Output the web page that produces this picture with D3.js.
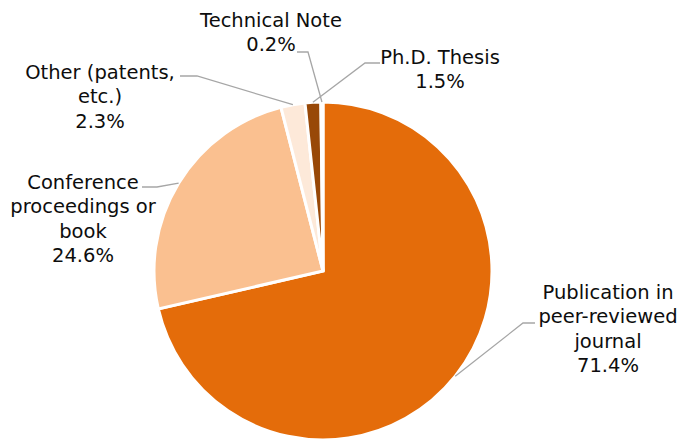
<!DOCTYPE html>
<html><head><meta charset="utf-8">
<script src="https://cdn.jsdelivr.net/npm/d3@7"></script>
<style>html,body{margin:0;padding:0;background:#fff;overflow:hidden}</style>
</head><body>
<svg id="chart" width="681" height="439"></svg>
<script>
const categories = ["Publication in peer-reviewed journal", "Conference proceedings or book", "Other (patents, etc.)", "Ph.D. Thesis", "Technical Note"];
const values = [71.4, 24.6, 2.3, 1.5, 0.2];
const labelLines = [["Publication in", "peer-reviewed", "journal"], ["Conference", "proceedings or", "book"], ["Other (patents,", "etc.)"], ["Ph.D. Thesis"], ["Technical Note"]];
const colors = ["#E46C0A", "#FAC090", "#FDE9D9", "#984807", "#FFFFFF"];
// label layout: text centre x, first-line centre y, elbow point (x,y), elbow end x
const labelLayout = [
  {x: 608, y: 292, ex: 523, ey: 323, hx: 535},
  {x: 83, y: 182, ex: 157, ey: 187, hx: 142},
  {x: 100, y: 72, ex: 197, ey: 76, hx: 180},
  {x: 440, y: 57, ex: 365, ey: 63, hx: 380},
  {x: 271, y: 20, ex: 308, ey: 52, hx: 297}
];

const svg = d3.select("#chart");
const cx = 323, cy = 271, r = 169;
const g = svg.append("g").attr("transform", `translate(${cx},${cy})`);
const pie = d3.pie().sort(null).value(d => d)(values);
const arc = d3.arc().innerRadius(0).outerRadius(r);

g.selectAll("path.slice").data(pie).join("path")
  .attr("class", "slice")
  .attr("d", arc)
  .attr("fill", (d, i) => colors[i])
  .attr("stroke", "#fff")
  .attr("stroke-width", 3)
  .attr("stroke-linejoin", "miter");

const lineH = 24.5;
pie.forEach((d, i) => {
  const a = (d.startAngle + d.endAngle) / 2;
  const ax = cx + r * Math.sin(a), ay = cy - r * Math.cos(a);
  const L = labelLayout[i];
  svg.append("polyline")
    .attr("points", `${L.hx},${L.ey} ${L.ex},${L.ey} ${ax},${ay}`)
    .attr("fill", "none").attr("stroke", "#A6A6A6").attr("stroke-width", 1.3);
  const lines = labelLines[i].concat([values[i].toFixed(1) + "%"]);
  const t = svg.append("text")
    .attr("text-anchor", "middle")
    .attr("font-family", "'DejaVu Sans', sans-serif")
    .attr("font-size", 19.5)
    .attr("fill", "#0d0d0d");
  lines.forEach((s, k) => {
    t.append("tspan").attr("x", L.x).attr("y", L.y + k * lineH).attr("dy", "0.35em").text(s);
  });
});
</script>
</body></html>
